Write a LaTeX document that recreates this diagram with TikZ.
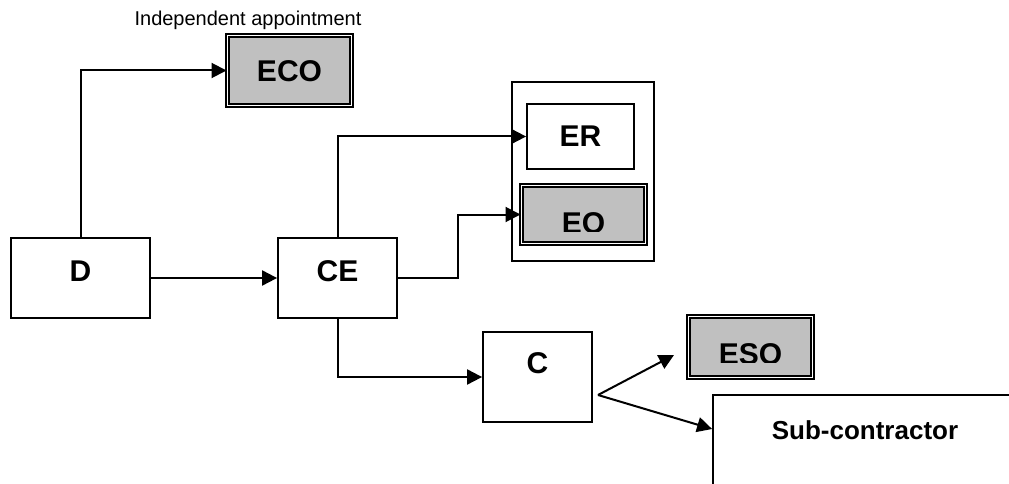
\documentclass[tikz,border=0pt]{standalone}
\usepackage{fontspec}
\setmainfont{Liberation Sans}
\usetikzlibrary{arrows.meta}
\definecolor{boxgray}{RGB}{192,192,192}
\tikzset{
    box/.style={draw, line width=1.8pt, fill=white, inner sep=0pt},
    dbox/.style={draw, double, line width=2pt, double distance=1.5pt, fill=boxgray, inner sep=0pt},
    boxtext/.style={anchor=base, inner sep=0pt, font=\fontsize{30}{32}\selectfont\bfseries},
    conn/.style={line width=2pt, -{Triangle[length=15pt,width=15pt]}}
}
\begin{document}
\begin{tikzpicture}[x=1pt,y=-1pt]
    \clip (0,0) rectangle (1009,484);
    \fill[white] (0,0) rectangle (1009,484);
    % boxes
    \node[box, minimum width=139pt, minimum height=80pt] (D) at (80.5,278) {};
    \node[box, minimum width=119pt, minimum height=80pt] (CE) at (337.5,278) {};
    \node[dbox, minimum width=124pt, minimum height=70pt] (ECO) at (289.5,70.5) {};
    \node[box, minimum width=142pt, minimum height=179pt] (grp) at (583,171.5) {};
    \node[box, minimum width=107pt, minimum height=65pt] (ER) at (580.5,136.5) {};
    \node[dbox, minimum width=124pt, minimum height=58pt] (EO) at (583.5,214.5) {};
    \node[box, minimum width=109pt, minimum height=90pt] (C) at (537.5,377) {};
    \node[dbox, minimum width=124pt, minimum height=61pt] (ESO) at (750.5,347) {};
    \node[box, minimum width=400pt, minimum height=130pt] (Sub) at (913,460) {};
    % texts
    \node[anchor=base, inner sep=0pt, font=\fontsize{20}{22}\selectfont] (indep) at (248,26) {Independent appointment};
    \node[boxtext] (Dt) at ([yshift=-44pt]D.north) {D};
    \node[boxtext] (CEt) at ([yshift=-44pt]CE.north) {CE};
    \node[boxtext] (ECOt) at ([yshift=-47pt]ECO.north) {ECO};
    \node[boxtext] (ERt) at ([yshift=-43pt]ER.north) {ER};
    \node[boxtext] (Ct) at ([yshift=-42pt]C.north) {C};
    \begin{scope}
        \clip (EO.north west) rectangle ([yshift=-47pt]EO.north east);
        \node[boxtext] (EOt) at ([yshift=-49pt]EO.north) {EO};
    \end{scope}
    \begin{scope}
        \clip (ESO.north west) rectangle ([yshift=-47pt]ESO.north east);
        \node[boxtext] (ESOt) at ([yshift=-49pt]ESO.north) {ESO};
    \end{scope}
    \node[anchor=base, inner sep=0pt, font=\fontsize{26}{28}\selectfont\bfseries] (Subt) at (865,439) {Sub-contractor};
    % connectors
    \coordinate (bendEO) at (458,278);
    \coordinate (fork) at (598,395);
    \coordinate (toESO) at (674,355);
    \coordinate (toSub) at (Sub.west |- 0,429);
    \draw[conn] (D.north) |- (ECO.west);
    \draw[conn] (D.east) -- (CE.west);
    \draw[conn] (CE.north) |- (ER.west);
    \draw[conn] (CE.east) -- (bendEO) |- (EO.west);
    \draw[conn] (CE.south) |- (C.west);
    \draw[conn] (fork) -- (toESO);
    \draw[conn] (fork) -- (toSub);
\end{tikzpicture}
\end{document}
